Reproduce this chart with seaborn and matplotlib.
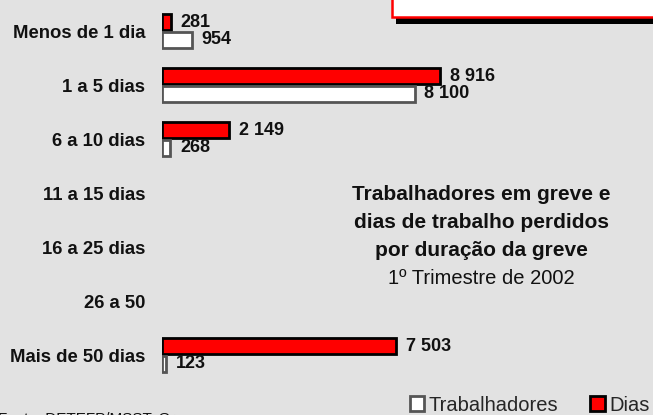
import matplotlib
matplotlib.use("Agg")
import matplotlib.pyplot as plt
import seaborn as sns
import pandas as pd
from matplotlib.patches import Rectangle

# ---- data ----
categorias = ["Menos de 1 dia", "1 a 5 dias", "6 a 10 dias", "11 a 15 dias",
              "16 a 25 dias", "26 a 50", "Mais de 50 dias"]
dias = [281, 8916, 2149, None, None, None, 7503]
trabalhadores = [954, 8100, 268, None, None, None, 123]
series = ["Dias", "Trabalhadores"]
titulo = ["Trabalhadores em greve e", "dias de trabalho perdidos", "por duração da greve"]
subtitulo = "1º Trimestre de 2002"
fonte = "Fonte: DETEFP/MSST, Greves"

rows = []
for c, d, t in zip(categorias, dias, trabalhadores):
    if d is not None:
        rows.append({"cat": c, "serie": "Dias", "valor": d})
    if t is not None:
        rows.append({"cat": c, "serie": "Trabalhadores", "valor": t})
df = pd.DataFrame(rows)

sns.set_style("white")
plt.rcParams["font.family"] = ["Liberation Sans", "DejaVu Sans"]

BG = "#e2e2e2"
W, H = 653, 415
fig = plt.figure(figsize=(W / 100, H / 100), dpi=100, facecolor=BG)
x0 = 162
ax = fig.add_axes([x0 / W, 0, (W - x0) / W, 1])
ax.set_facecolor(BG)

sns.barplot(data=df, y="cat", x="valor", hue="serie", order=categorias,
            hue_order=series, palette={"Dias": "#ff0000", "Trabalhadores": "#ffffff"},
            orient="h", width=0.66, gap=0.1, ax=ax, legend=False,
            errorbar=None, saturation=1)

edges = ["#000000", "#555555"]
for cont, ec in zip(ax.containers, edges):
    for p in cont:
        p.set_edgecolor(ec)
        p.set_linewidth(2)
    ax.bar_label(cont, labels=[f"{int(v):,}".replace(",", " ") for v in cont.datavalues],
                 padding=7, fontsize=13, fontweight="bold", color="#111111")

px_per_unit = (440 - x0) / 8916
ax.set_xlim(0, (W - x0) / px_per_unit)
ax.set_ylim((H - 31) / 54, -31 / 54)
ax.set_xticks([])
ax.set_xlabel("")
ax.set_ylabel("")
for s in ax.spines.values():
    s.set_visible(False)
ax.tick_params(axis="y", length=0, pad=12)
for lab in ax.get_yticklabels():
    lab.set_fontsize(13.3)
    lab.set_fontweight("bold")
    lab.set_color("#111111")

# title block
for i, line in enumerate(titulo):
    fig.text(481 / W, (H - (200 + 28 * i)) / H, line, ha="center", va="baseline",
             fontsize=15, fontweight="bold", color="#111111")
fig.text(481 / W, (H - 284) / H, subtitulo, ha="center", va="baseline",
         fontsize=14.5, color="#111111")

# source
fig.text(-2 / W, (H - 423) / H, fonte, ha="left", va="baseline", fontsize=11, color="#111111")

# legend
handles = [Rectangle((0, 0), 1, 1, facecolor="#ffffff", edgecolor="#555555", lw=2),
           Rectangle((0, 0), 1, 1, facecolor="#ff0000", edgecolor="#000000", lw=2)]
fig.legend(handles=handles, labels=["Trabalhadores", "Dias"], ncol=2,
           loc="center right", bbox_to_anchor=(650 / W, (H - 405) / H),
           frameon=False, fontsize=14.5, handlelength=0.7, handleheight=0.7,
           handletextpad=0.25, columnspacing=1.6, borderpad=0, borderaxespad=0)

# top-right box with shadow
fig.patches.append(Rectangle((396 / W, (H - 24) / H), (W - 396 + 10) / W, 7 / H,
                             transform=fig.transFigure, facecolor="black",
                             edgecolor="none", zorder=5))
fig.patches.append(Rectangle((392 / W, (H - 17) / H), (W - 392 + 10) / W, 30 / H,
                             transform=fig.transFigure, facecolor="white",
                             edgecolor="#ff0000", lw=1.8, zorder=6))

fig.savefig("out.png", dpi=100, facecolor=BG)
